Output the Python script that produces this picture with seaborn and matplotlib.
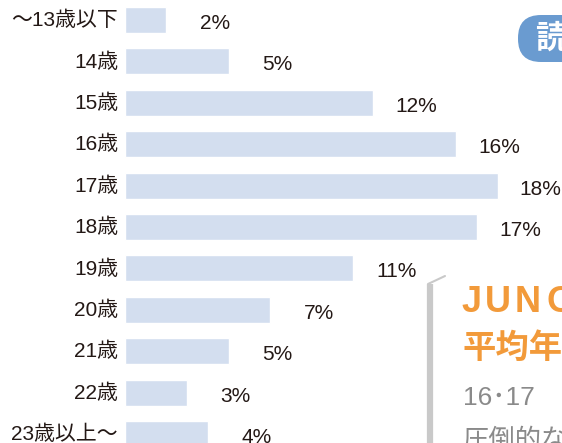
import matplotlib
matplotlib.use("Agg")
import matplotlib.pyplot as plt
import matplotlib.transforms as mtrans
import seaborn as sns
import pandas as pd
from matplotlib.patches import FancyBboxPatch

# 読者の年齢分布
ages = ['〜13歳以下', '14歳', '15歳', '16歳', '17歳', '18歳',
        '19歳', '20歳', '21歳', '22歳', '23歳以上〜']
shares = [2, 5, 12, 16, 18, 17, 11, 7, 5, 3, 4]

df = pd.DataFrame({'age': ages, 'share': shares})

sns.set_style('white')
plt.rcParams['font.family'] = ['Liberation Sans', 'Noto Sans CJK JP', 'DejaVu Sans']

ink = '#231815'
bar_color = '#d3deef'

W, H = 562, 443
fig = plt.figure(figsize=(W / 100, H / 100), dpi=100)
fig.patch.set_facecolor('white')

# 棒グラフ本体（左端 125px から）
ax = fig.add_axes([125 / W, 0, 1 - 125 / W, 1])
sns.barplot(data=df, x='share', y='age', orient='h', color=bar_color,
            saturation=1, width=0.63, ax=ax)
px_per_pct = 20.7
ax.set_xlim(0, (W - 125) / px_per_pct)
ax.set_ylim((H - 20) / 41.4, -20 / 41.4)
ax.set_xlabel('')
ax.set_ylabel('')
ax.set_xticks([])
sns.despine(ax=ax, left=True, bottom=True)
ax.tick_params(axis='y', length=0, pad=5, labelsize=15, labelcolor=ink)
ax.set_facecolor('none')

# 年齢ラベルをわずかに上げる（最下段が切れないように）
shift = mtrans.ScaledTranslation(0, 1.5 / 100, fig.dpi_scale_trans)
for lab in ax.get_yticklabels():
    lab.set_transform(lab.get_transform() + shift)

for i, v in enumerate(shares):
    ax.annotate(f'{v}%', xy=(v, i), xytext=(46, -2.5), textcoords='offset points',
                ha='right', va='center', fontsize=15, color=ink)

# 右側の飾り（誌面の一部）
ov = fig.add_axes([0, 0, 1, 1], facecolor='none')
ov.set_xlim(0, W)
ov.set_ylim(H, 0)
ov.axis('off')

pill = FancyBboxPatch((518, 15), 70, 47, boxstyle='round,pad=0,rounding_size=23',
                      facecolor='#6a9bd0', edgecolor='none')
ov.add_patch(pill)
ov.text(535, 39, '読者', color='white', fontsize=23, fontweight='bold',
        va='center', ha='left', family=['Noto Sans CJK JP'])

ov.plot([430, 430], [284, H + 5], color='#c9c9c9', lw=4.5, solid_capstyle='butt')
ov.plot([428, 445], [284, 276], color='#c9c9c9', lw=1.5)

orange = '#f29a3a'
for ch, x in zip('JUNON', [462, 485, 515, 546, 580]):
    ov.text(x, 303, ch, color=orange, fontsize=26, fontweight='bold',
            va='center', ha='left')
ov.text(462, 348, '平均年齢', color=orange, fontsize=24, fontweight='bold',
        va='center', ha='left', family=['Noto Sans CJK JP'])
gray = '#8a8a8a'
ov.text(463, 398, '16･17', color=gray, fontsize=19, va='center', ha='left')
ov.text(462, 440, '圧倒的な', color=gray, fontsize=19, va='center', ha='left',
        family=['Noto Sans CJK JP'])

fig.savefig('out.png', dpi=100)
